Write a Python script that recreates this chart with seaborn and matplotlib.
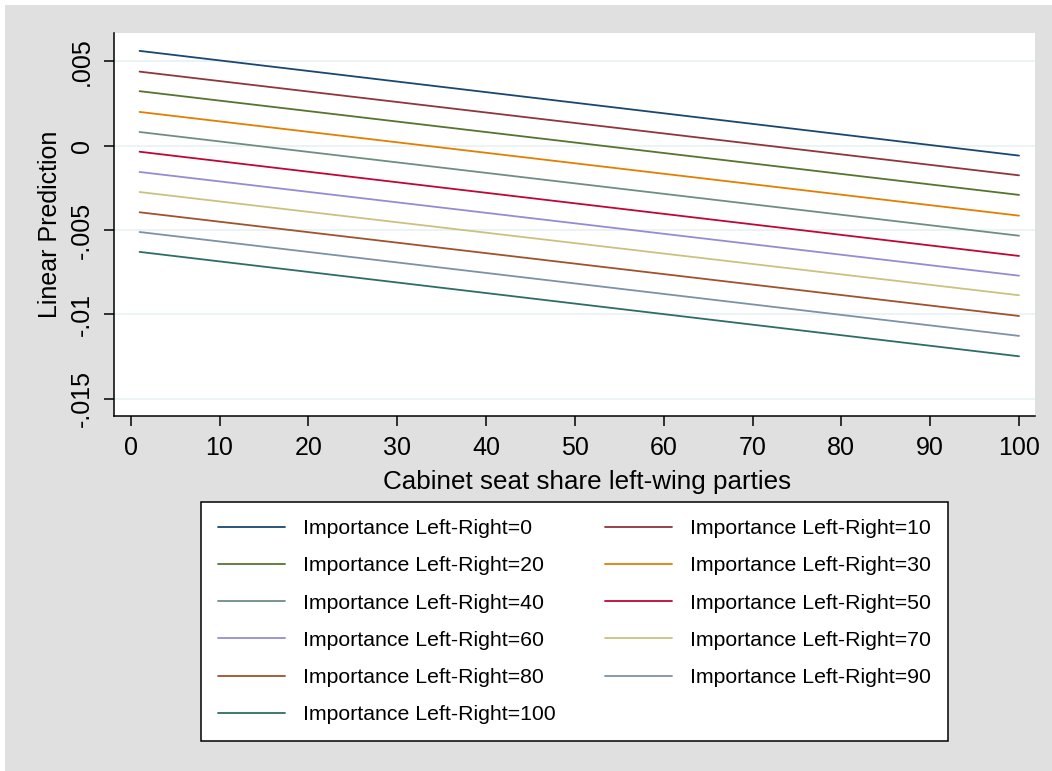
import matplotlib
matplotlib.use("Agg")
import matplotlib.pyplot as plt
import numpy as np
import pandas as pd
import seaborn as sns

# importance levels and predicted values at x=1 and x=100 (straight lines)
levels = [0, 10, 20, 30, 40, 50, 60, 70, 80, 90, 100]
x_ends = [1, 100]
start_vals = [0.00562, 0.00439, 0.00323, 0.00200, 0.00081, -0.00036,
              -0.00156, -0.00275, -0.00395, -0.00512, -0.00630]
end_vals = [-0.00059, -0.00176, -0.00292, -0.00415, -0.00534, -0.00654,
            -0.00771, -0.00887, -0.01010, -0.01128, -0.01249]
colors = ["#1a476f", "#90353b", "#55752f", "#e37e00", "#6e8e84", "#c10534",
          "#938dd2", "#cac27e", "#a0522d", "#7b92a8", "#2d6d66"]
yticks = [0.005, 0, -0.005, -0.01, -0.015]
ytick_labels = [".005", "0", "-.005", "-.01", "-.015"]
xticks = list(range(0, 101, 10))

labels = ["Importance Left-Right=" + str(l) for l in levels]
rows = []
for lab, s, e in zip(labels, start_vals, end_vals):
    rows.append({"x": x_ends[0], "pred": s, "level": lab})
    rows.append({"x": x_ends[1], "pred": e, "level": lab})
df = pd.DataFrame(rows)

sns.set_style("white")
plt.rcParams["font.family"] = ["Liberation Sans", "DejaVu Sans"]
for k in ["text.color", "axes.labelcolor", "xtick.color", "ytick.color"]:
    plt.rcParams[k] = "black"

fig = plt.figure(figsize=(10.52, 7.71), dpi=100)
fig.patch.set_facecolor("white")
bg = plt.Rectangle((5 / 1052, 0), 1, 1 - 5 / 771, transform=fig.transFigure,
                   facecolor="#e0e0e0", edgecolor="none", zorder=-10)
fig.patches.append(bg)

ax = fig.add_axes([114 / 1052, 1 - 416 / 771, (1035 - 114) / 1052, (416 - 33) / 771])
ax.set_facecolor("white")

for yv in yticks:
    ax.axhline(yv, color="#eaf2f3", lw=1.3, zorder=0)

pal = dict(zip(labels, colors))
sns.lineplot(data=df, x="x", y="pred", hue="level", hue_order=labels,
             palette=pal, lw=1.3, ax=ax, legend=True)

ax.set_xlim(-1.88, 101.8)
ax.set_ylim(-0.01603, 0.00668)
ax.set_xticks(xticks)
ax.set_yticks(yticks)
ax.set_yticklabels(ytick_labels, rotation=90, va="center")
ax.tick_params(axis="both", direction="out", length=7.5, width=1.1,
               color="black", labelsize=18, pad=7, left=True, bottom=True)
for side in ["top", "right"]:
    ax.spines[side].set_visible(False)
for side in ["left", "bottom"]:
    ax.spines[side].set_color("black")
    ax.spines[side].set_linewidth(1.1)

ax.set_xlabel("Cabinet seat share left-wing parties", fontsize=18.7)
ax.xaxis.set_label_coords(0.5136, -0.14)
ax.xaxis.label.set_va("top")
ax.set_ylabel("Linear Prediction", fontsize=18, labelpad=5.5)

handles, labs = ax.get_legend_handles_labels()
ax.get_legend().remove()
order = [0, 2, 4, 6, 8, 10, 1, 3, 5, 7, 9]
leg = fig.legend([handles[i] for i in order], [labs[i] for i in order],
                 loc="upper center", ncol=2,
                 bbox_to_anchor=(574.5 / 1052, 1 - 502 / 771),
                 fontsize=15.3, frameon=True, fancybox=False, edgecolor="black",
                 framealpha=1, handlelength=3.15, handletextpad=0.85,
                 columnspacing=2.3, labelspacing=0.86, borderpad=0.8,
                 borderaxespad=0)
leg.get_frame().set_linewidth(1.1)
for h in leg.get_lines():
    h.set_linewidth(1.3)

fig.savefig("out.png", dpi=100)
